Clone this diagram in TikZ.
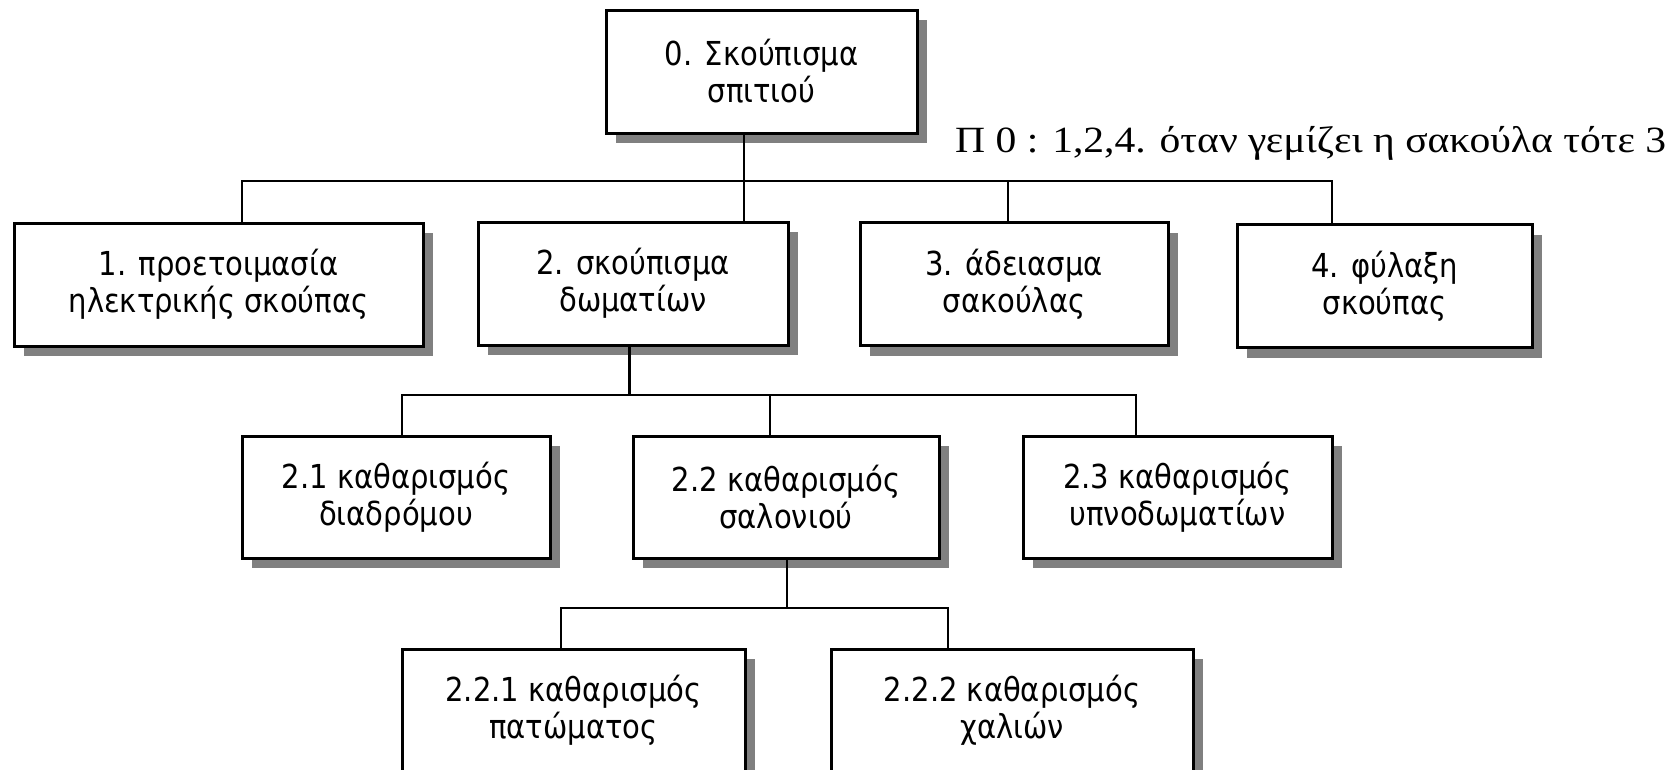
\documentclass[tikz,border=0pt]{standalone}
\usepackage{graphicx}
\usepackage{fontspec}
\setmainfont{DejaVu Sans}[FakeStretch=0.88]
\newfontfamily\serifgr{Liberation Serif}
\usetikzlibrary{shadows}
\tikzset{
  box/.style={draw, line width=3pt, fill=white, align=center, inner sep=0pt,
    minimum height=123pt,
    font=\fontsize{33}{37}\selectfont,
    drop shadow={shadow xshift=10pt, shadow yshift=-10pt, fill=black!50, opacity=1, draw=none}},
  wire/.style={line width=2.3pt, line join=miter}
}
\begin{document}
\begin{tikzpicture}[x=1pt, y=-1pt]
\useasboundingbox (0,0) rectangle (1679,769);
% nodes
\node[box, minimum width=311pt] (b0) at (761.5,71.5) {0. Σκούπισμα\\σπιτιού};
\node[box, minimum width=409pt] (b1) at (218.5,284.5) {1. προετοιμασία\\ηλεκτρικής σκούπας};
\node[box, minimum width=310pt] (b2) at (633,283.5) {2. σκούπισμα\\δωματίων};
\node[box, minimum width=308pt] (b3) at (1014,284) {3. άδειασμα\\σακούλας};
\node[box, minimum width=295pt] (b4) at (1384.5,286) {4. φύλαξη\\σκούπας};
\node[box, minimum width=308pt, minimum height=122pt] (b21) at (396,497) {2.1 καθαρισμός\\διαδρόμου};
\node[box, minimum width=306pt, minimum height=122pt] (b22) at (786,497) {2.2 καθαρισμός\\σαλονιού};
\node[box, minimum width=309pt, minimum height=122pt] (b23) at (1177.5,497) {2.3 καθαρισμός\\υπνοδωματίων};
\node[box, minimum width=343pt, minimum height=122pt] (b221) at (573.5,710) {2.2.1 καθαρισμός\\πατώματος};
\node[box, minimum width=362pt, minimum height=122pt] (b222) at (1012,710) {2.2.2 καθαρισμός\\χαλιών};
% note
\node[anchor=base west, inner sep=0pt] (note) at (955,152)
  {\resizebox{711pt}{\height}{\serifgr\fontsize{37}{40}\selectfont Π 0 : 1,2,4. όταν γεμίζει η σακούλα τότε 3}};
% bus levels
\coordinate (bus1) at (0,181);
\coordinate (bus2) at (0,395);
\coordinate (bus3) at (0,608);
% connector points
\coordinate (t0) at ([xshift=-17.5pt]b0.south);
\coordinate (t1) at ([xshift=23.5pt]b1.north);
\coordinate (t2) at ([xshift=111pt]b2.north);
\coordinate (t3) at ([xshift=-6pt]b3.north);
\coordinate (t4) at ([xshift=-52.5pt]b4.north);
\coordinate (s2) at ([xshift=-4pt]b2.south);
\coordinate (t21) at ([xshift=6pt]b21.north);
\coordinate (t22) at ([xshift=-16pt]b22.north);
\coordinate (t23) at ([xshift=-41.5pt]b23.north);
\coordinate (s22) at ([xshift=1pt]b22.south);
\coordinate (t221) at ([xshift=-12.5pt]b221.north);
\coordinate (t222) at ([xshift=-64pt]b222.north);
% connectors level 1
\draw[wire] (t0) -- (t2);
\draw[wire] (t0) -- (t0 |- bus1) -- (t1 |- bus1) -- (t1);
\draw[wire] (t0) -- (t0 |- bus1) -- (t3 |- bus1) -- (t3);
\draw[wire] (t0) -- (t0 |- bus1) -- (t4 |- bus1) -- (t4);
% level 2
\draw[wire, line width=3pt] (s2) -- (s2 |- bus2);
\draw[wire] (s2 |- bus2) -- (t21 |- bus2) -- (t21);
\draw[wire] (s2 |- bus2) -- (t22 |- bus2) -- (t22);
\draw[wire] (s2 |- bus2) -- (t23 |- bus2) -- (t23);
% level 3
\draw[wire] (s22) -- (s22 |- bus3) -- (t221 |- bus3) -- (t221);
\draw[wire] (s22) -- (s22 |- bus3) -- (t222 |- bus3) -- (t222);
\end{tikzpicture}
\end{document}
